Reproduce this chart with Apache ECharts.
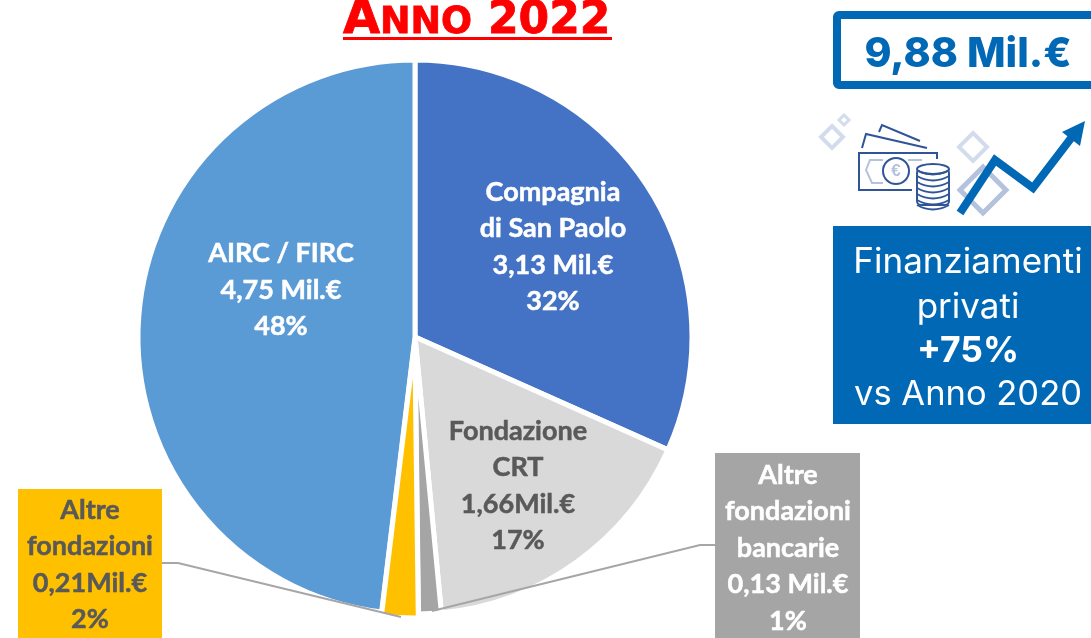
<!DOCTYPE html>
<html><head><meta charset="utf-8">
<style>html,body{margin:0;padding:0;background:#fff}#c{width:1091px;height:638px}</style>
<script src="https://cdn.jsdelivr.net/npm/echarts@6/dist/echarts.min.js"></script>
</head><body><div id="c"></div>
<script>
const names = ['Compagnia\ndi San Paolo','Fondazione\nCRT','Altre\nfondazioni\nbancarie','Altre\nfondazioni','AIRC / FIRC'];
const values = [3.13,1.66,0.13,0.21,4.75];
const amounts = ['3,13 Mil.€','1,66Mil.€','0,13 Mil.€','0,21Mil.€','4,75 Mil.€'];
const shares = ['32%','17%','1%','2%','48%'];
const colors = ['#4472c4','#d9d9d9','#a5a5a5','#ffc000','#5b9bd5'];
const labelColors = ['#fff','#595959','#fff','#595959','#fff'];
const labelPos = [[553,247],[518,486],[788,548],[90,565],[281,290]];
const blue='#0068b5', navy='#2f5597', light='#d3dcec', mid='#b4c2dd';
const LABEL_FONT={fontFamily:'Lato',fontWeight:'bold',fontSize:27,lineHeight:36.5};
const chart = echarts.init(document.getElementById('c'),null,{renderer:'canvas'});
const labelText=i=>[names[i],amounts[i],shares[i]].join('\n');
const diamond=(cx,cy,h,c,w)=>({type:'polygon',shape:{points:[[cx,cy-h],[cx+h,cy],[cx,cy+h],[cx-h,cy]]},style:{fill:'none',stroke:c,lineWidth:w}});
const line=(pts,c,w)=>({type:'polyline',shape:{points:pts},style:{fill:'none',stroke:c,lineWidth:w}});
const titleText=(t,x,y,size)=>({type:'text',x:x,y:y,style:{text:t,align:'left',verticalAlign:'bottom',fill:'#f00',stroke:'#f00',lineWidth:0.8,fontFamily:'DejaVu Sans',fontWeight:'bold',fontSize:size}});
const panelText=(t,y,w,s)=>({type:'text',x:968,y:y,style:{text:t,align:'center',verticalAlign:'middle',fill:'#fff',fontFamily:'Inter',fontWeight:w,fontSize:s}});
const coinY=[170,176,182,188,194,200,205];
const graphic=[
 titleText('A',343,45,48),titleText('NNO',380,42,36.5),titleText('2022',488,44,44),
 {type:'rect',shape:{x:343,y:37,width:269,height:3},style:{fill:'#f00'}},
 {type:'rect',shape:{x:837,y:15,width:270,height:70,r:2},style:{fill:'#fff',stroke:blue,lineWidth:8}},
 {type:'text',x:968,y:55,style:{text:'9,88 Mil.€',align:'center',verticalAlign:'middle',fill:blue,fontFamily:'Inter',fontWeight:800,fontSize:41}},
 diamond(844,120,5,light,3),diamond(832,137,11,light,4),diamond(973,147,14,light,4),diamond(983,190,23,mid,5),
 line([[862,148],[866,134],[927,148]],navy,2),
 line([[879,132],[882,125],[920,141]],navy,2),
 line([[912,190],[859,190],[859,153],[937,153],[937,159]],navy,2),
 line([[883,160],[870,160],[866,170],[872,183],[883,183]],mid,2),
 line([[908,160],[922,160]],mid,2),
 {type:'circle',shape:{cx:896,cy:171,r:13},style:{fill:'#fff',stroke:navy,lineWidth:2}},
 {type:'text',x:896,y:171,style:{text:'€',align:'center',verticalAlign:'middle',fill:mid,fontFamily:'Liberation Sans',fontWeight:'bold',fontSize:17}},
 {type:'rect',shape:{x:917,y:169,width:32,height:36,r:4},style:{fill:'#fff',stroke:navy,lineWidth:2}},
 {type:'ellipse',shape:{cx:933,cy:169,rx:16,ry:5},style:{fill:'#fff',stroke:navy,lineWidth:2}},
 ...coinY.map(y=>({type:'bezierCurve',shape:{x1:917,y1:y,x2:949,y2:y,cpx1:933,cpy1:y+9},style:{fill:'none',stroke:navy,lineWidth:2}})),
 line([[960,213],[995,160],[1033,188],[1075,133]],blue,8),
 {type:'polygon',shape:{points:[[1085,121],[1062,132],[1080,146]]},style:{fill:blue}},
 {type:'rect',shape:{x:833,y:226,width:258,height:198},style:{fill:blue}},
 panelText('Finanziamenti',262,'normal',35),
 panelText('privati',307,'normal',35),
 panelText('+75%',351,'bold',35.5),
 panelText('vs Anno 2020',395,'normal',34.5),
 {...line([[162,563],[178,563],[401,617]],'#a6a6a6',2),z:5},
 {...line([[715,545],[700,545],[432,611]],'#a6a6a6',2),z:5},
 {type:'rect',shape:{x:715,y:453,width:145,height:185},style:{fill:colors[2]}},
 {type:'rect',shape:{x:18,y:489,width:144,height:149},style:{fill:colors[3]}},
 {type:'text',x:labelPos[3][0],y:labelPos[3][1],style:{text:labelText(3),align:'center',verticalAlign:'middle',fill:labelColors[3],stroke:labelColors[3],lineWidth:0.5,...LABEL_FONT}}
];
chart.setOption({
 animation:false,
 graphic:graphic,
 series:[{
  type:'pie',center:[415,337],radius:[0,277],startAngle:90,clockwise:true,
  selectedMode:'multiple',selectedOffset:4,
  itemStyle:{borderColor:'#fff',borderWidth:5},
  labelLine:{show:false},
  data:names.map((n,i)=>({
    name:n,value:values[i],selected:i===3,
    itemStyle:{color:colors[i]},
    label:{show:i!==3,position:'inside',
      formatter:()=>labelText(i),
      color:labelColors[i],textBorderColor:labelColors[i],textBorderWidth:0.5,...LABEL_FONT,align:'center',verticalAlign:'middle'}
  })),
  labelLayout:p=>({x:labelPos[p.dataIndex][0],y:labelPos[p.dataIndex][1],align:'center',verticalAlign:'middle',hideOverlap:false})
 }]
});
</script></body></html>
